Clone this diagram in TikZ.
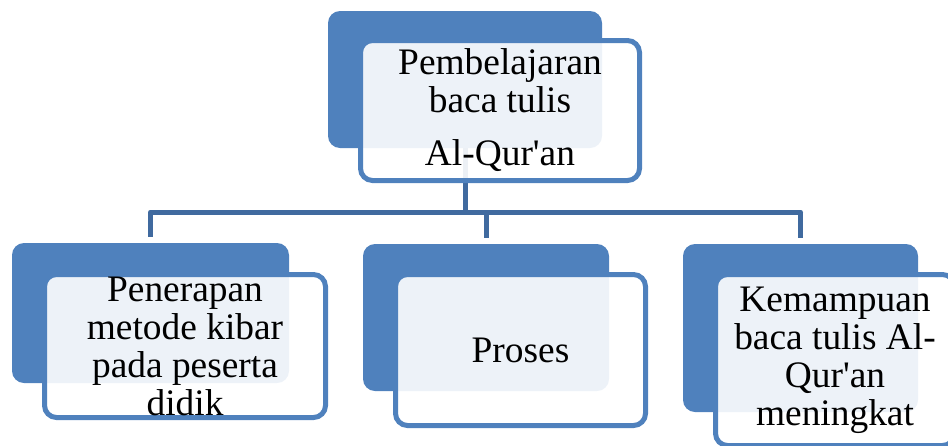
\documentclass[tikz,border=0pt]{standalone}
\usepackage{fontspec}
\setmainfont{Liberation Serif}
\definecolor{boxblue}{RGB}{79,129,189}
\definecolor{linkblue}{RGB}{64,106,159}

\begin{document}
\begin{tikzpicture}[x=0.5pt,y=-0.5pt]
\tikzstyle{back}=[draw=none,fill=boxblue,rounded corners=6pt,inner sep=0pt];
\tikzstyle{front}=[draw=boxblue,line width=2.5pt,fill=white,fill opacity=0.9,text opacity=1,rounded corners=6pt,inner sep=0pt,align=center,font=\fontsize{18.7}{19}\selectfont];
\tikzstyle{link}=[draw=linkblue,line width=2.5pt];
\clip (0,0) rectangle (948,445);
% back boxes
\node[back,minimum width=137pt,minimum height=68.5pt] (top-b) at (465,79.5) {};
\node[back,minimum width=138.5pt,minimum height=70pt] (left-b) at (150.5,313) {};
\node[back,minimum width=123pt,minimum height=73.5pt] (mid-b) at (486,317.5) {};
\node[back,minimum width=117.5pt,minimum height=84pt] (right-b) at (800.5,328) {};
% connectors
\coordinate (bus) at (465,212);
\draw[link] (top-b.south) -- (bus);
\draw[link,line cap=round] (bus -| left-b.north) -- (bus -| right-b.north);
\draw[link] (bus -| left-b.north) -- ([yshift=3pt]left-b.north);
\draw[link] (bus -| mid-b.north) -- ([yshift=3pt]mid-b.north);
\draw[link] (bus -| right-b.north) -- ([yshift=3pt]right-b.north);
% front boxes
\node[front,minimum width=139.5pt,minimum height=70pt] (top) at (500,110.5) {Pembelajaran\\ baca tulis\\[7.5pt] Al-Qur\textquotesingle an};
\node[front,minimum width=140.5pt,minimum height=71.5pt] (left) at (185,346) {Penerapan\\ metode kibar\\ pada peserta\\ didik};
\node[front,minimum width=125pt,minimum height=75.5pt] (mid) at (520.5,350) {Proses};
\node[front,minimum width=119.5pt,minimum height=85.5pt] (right) at (835,360) {Kemampuan\\ baca tulis Al-\\ Qur\textquotesingle an\\ meningkat};
\end{tikzpicture}
\end{document}
